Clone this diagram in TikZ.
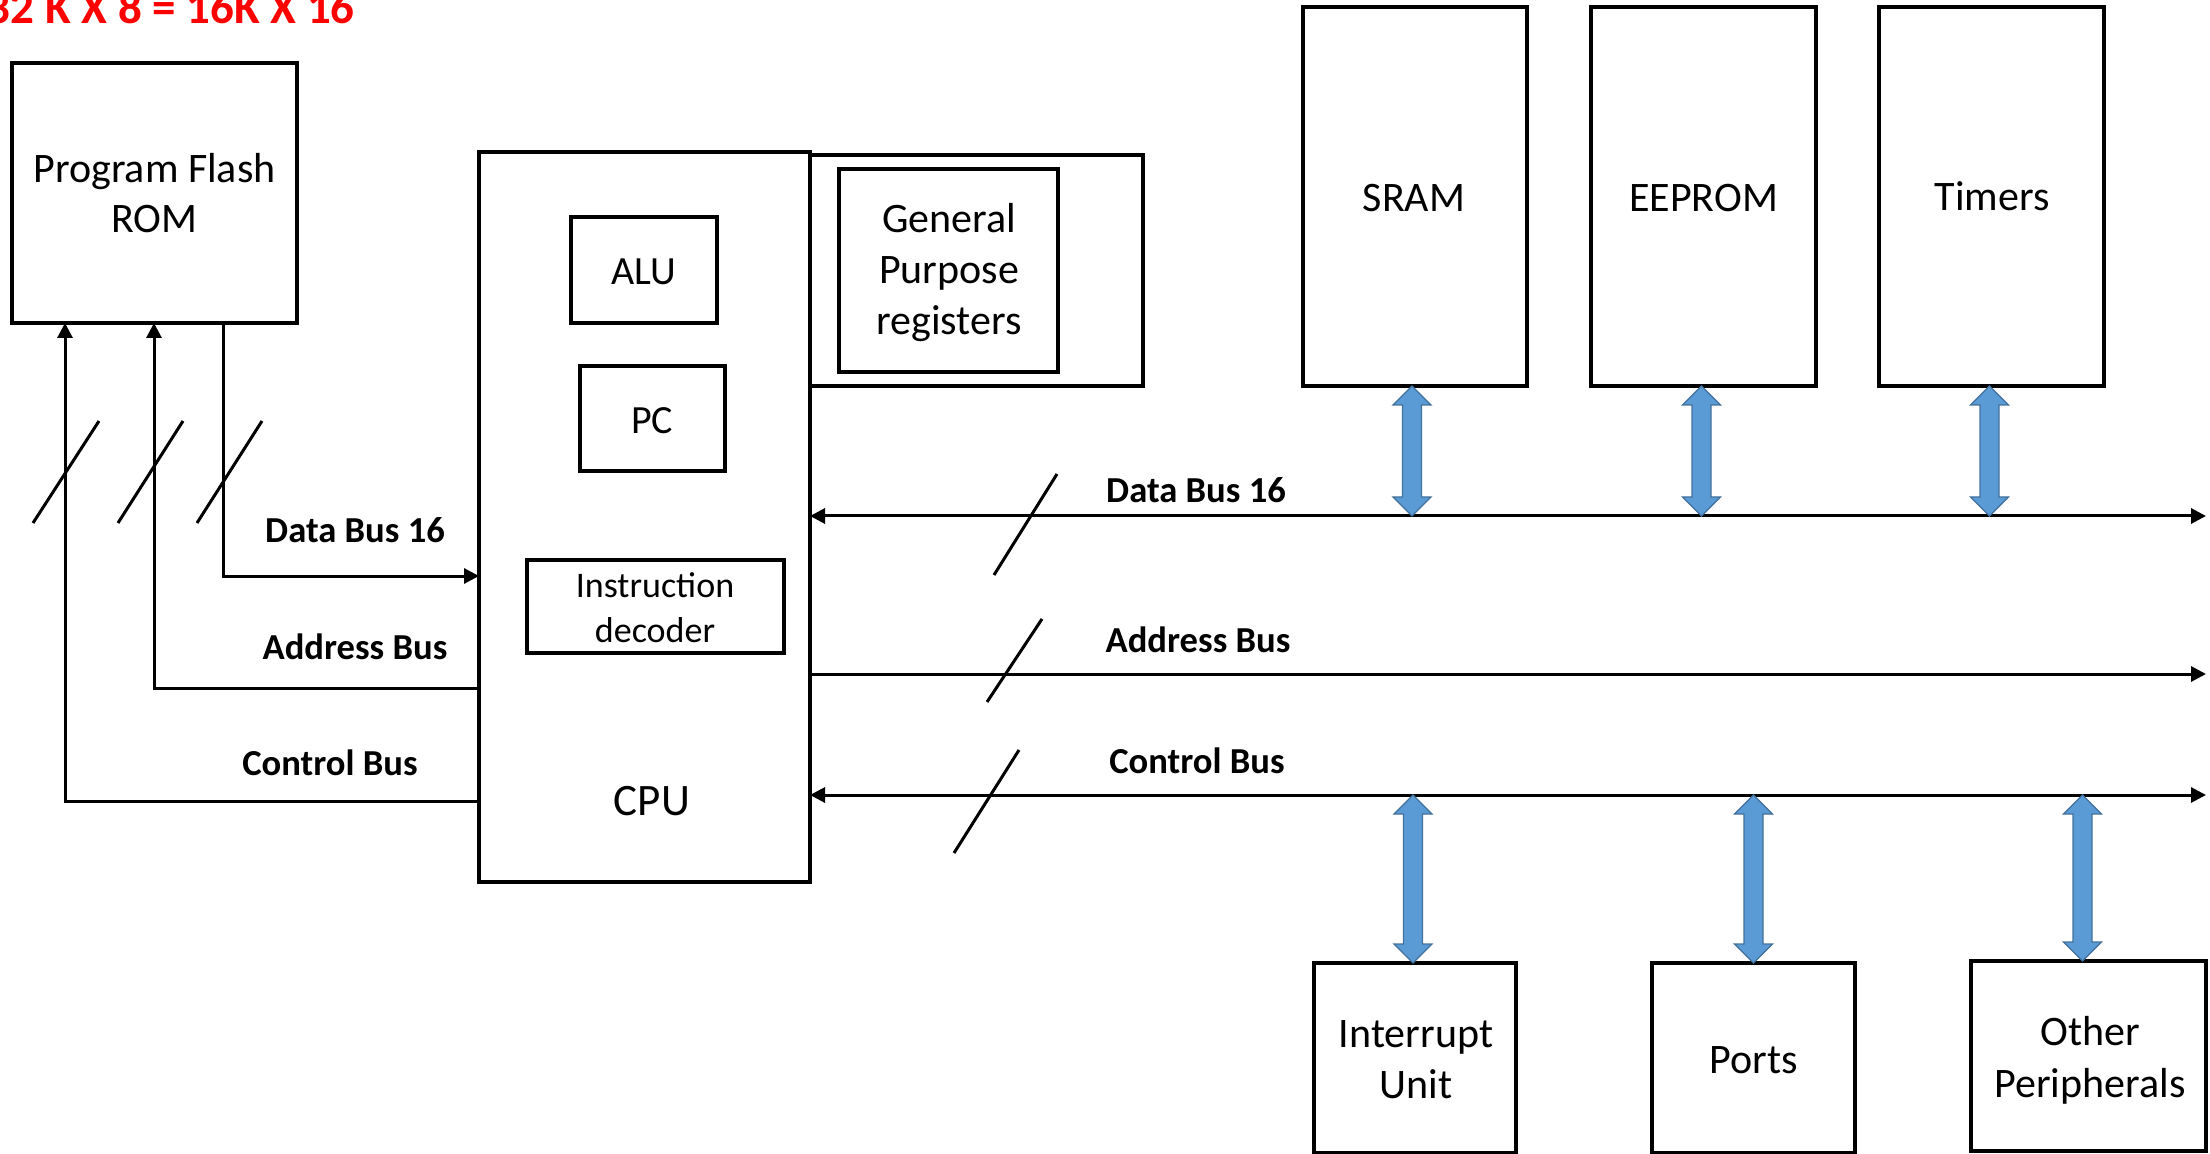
\documentclass[tikz,border=0pt]{standalone}
\usepackage{fontspec}
\setmainfont{Carlito}
\usetikzlibrary{arrows.meta,calc}
\definecolor{fatfill}{HTML}{5B9BD5}
\definecolor{fatline}{HTML}{41719C}
\newcommand{\fatarrow}[2]{%
  \draw[fat] (#1) -- ($(#1)+(19,19)$) -- ($(#1)+(9.5,19)$) -- ($(#2)+(9.5,-19)$)
    -- ($(#2)+(19,-19)$) -- (#2) -- ($(#2)+(-19,-19)$) -- ($(#2)+(-9.5,-19)$)
    -- ($(#1)+(-9.5,19)$) -- ($(#1)+(-19,19)$) -- cycle;}
\begin{document}
\begin{tikzpicture}[x=0.5pt,y=-0.5pt,
  blk/.style={draw,line width=1.65pt,inner sep=0pt,outer sep=0pt},
  txt/.style={anchor=base,inner sep=0pt,font=\fontsize{21}{25.5}\selectfont},
  lbl/.style={anchor=base,inner sep=0pt,font=\fontsize{18.3}{22}\selectfont\bfseries},
  bus/.style={line width=1.5pt,-{Triangle[length=7.5pt,width=7.5pt]}},
  dbus/.style={line width=1.5pt,{Triangle[length=7.5pt,width=7.5pt]}-{Triangle[length=7.5pt,width=7.5pt]}},
  slash/.style={line width=1.5pt},
  fat/.style={fill=fatfill,draw=fatline,line width=0.6pt,line join=miter}
]
\useasboundingbox (0,0) rectangle (2210,1154);

% title
\node[anchor=base east,inner sep=0pt,text=red,font=\fontsize{23.5}{28}\selectfont\bfseries] (title) at (355,24) {32 K X 8 = 16K X 16};

% boxes
\node[blk,minimum width=142.5pt,minimum height=130pt] (ROM) at (154.5,193) {};
\node[blk,minimum width=165.5pt,minimum height=365pt] (CPU) at (644.5,517) {};
\node[blk,minimum width=166.5pt,minimum height=115.5pt] (GPRo) at (976.5,270.5) {};
\node[blk,minimum width=109.5pt,minimum height=101.5pt] (GPR) at (948.5,270.5) {};
\node[blk,minimum width=73pt,minimum height=53pt] (ALU) at (644,270) {};
\node[blk,minimum width=72.5pt,minimum height=52.5pt] (PC) at (652.5,418.5) {};
\node[blk,minimum width=128.5pt,minimum height=46.5pt] (ID) at (655.5,606.5) {};
\node[blk,minimum width=112pt,minimum height=189.5pt] (SRAM) at (1415,196.5) {};
\node[blk,minimum width=112.5pt,minimum height=189.5pt] (EEPROM) at (1703.5,196.5) {};
\node[blk,minimum width=112.5pt,minimum height=189.5pt] (Timers) at (1991.5,196.5) {};
\node[blk,minimum width=101pt,minimum height=95pt] (Int) at (1415,1058) {};
\node[blk,minimum width=101.5pt,minimum height=95pt] (Ports) at (1753.5,1058) {};
\node[blk,minimum width=117.5pt,minimum height=95pt] (Other) at (2088.5,1056) {};

% texts
\node[txt,font=\fontsize{21}{25}\selectfont] (tROM) at (154.5,183) {\begin{tabular}[t]{@{}c@{}}Program Flash\\ROM\end{tabular}};
\node[txt] (tGPR) at (949,233) {\begin{tabular}[t]{@{}c@{}}General\\Purpose\\registers\end{tabular}};
\node[txt,font=\fontsize{20}{24}\selectfont] (tALU) at (644,285) {ALU};
\node[txt,font=\fontsize{20}{24}\selectfont] (tPC) at (652,434) {PC};
\node[txt,font=\fontsize{18}{22.5}\selectfont] (tID) at (655,597) {\begin{tabular}[t]{@{}c@{}}Instruction\\decoder\end{tabular}};
\node[txt,font=\fontsize{22.5}{27}\selectfont] (tCPU) at (652,815) {CPU};
\node[txt] (tSRAM) at (1414,212) {SRAM};
\node[txt] (tEEPROM) at (1703.5,212) {EEPROM};
\node[txt] (tTimers) at (1992,211) {Timers};
\node[txt] (tInt) at (1416,1047) {\begin{tabular}[t]{@{}c@{}}Interrupt\\Unit\end{tabular}};
\node[txt] (tPorts) at (1754,1073) {Ports};
\node[txt,font=\fontsize{21}{26}\selectfont] (tOther) at (2090,1045) {\begin{tabular}[t]{@{}c@{}}Other\\Peripherals\end{tabular}};

% bus labels
\node[lbl] (lD) at (355,543) {Data Bus 16};
\node[lbl] (lA) at (355,659) {Address Bus};
\node[lbl] (lC) at (330,775) {Control Bus};
\node[lbl] (rD) at (1196,503) {Data Bus 16};
\node[lbl] (rA) at (1198,652) {Address Bus};
\node[lbl] (rC) at (1197,773) {Control Bus};

% left buses
\coordinate (rd) at (223,576);
\coordinate (ra) at (154,688);
\coordinate (rc) at (65,801);
\draw[bus] (ROM.south -| rd) -- (rd) -- (rd -| CPU.west);
\draw[bus] (CPU.west |- ra) -- (ra) -- (ROM.south -| ra);
\draw[bus] (CPU.west |- rc) -- (rc) -- (ROM.south -| rc);
\draw[slash] (33,523) -- (99,421);
\draw[slash] (118,523) -- (183,421);
\draw[slash] (197,523) -- (262,421);

% right buses
\coordinate (dbE) at (2206,516);
\coordinate (abE) at (2206,674);
\coordinate (cbE) at (2206,795);
\draw[dbus] (CPU.east |- dbE) -- (dbE);
\draw[bus] (CPU.east |- abE) -- (abE);
\draw[dbus] (CPU.east |- cbE) -- (cbE);
\draw[slash] (994,575) -- (1057,474);
\draw[slash] (987,702) -- (1042,619);
\draw[slash] (954,853) -- (1019,750);

% fat arrows, top
\coordinate (s1) at ($(SRAM.south)+(-3,0)$);   \coordinate (s2) at (s1 |- dbE);
\coordinate (e1) at ($(EEPROM.south)+(-2,0)$); \coordinate (e2) at (e1 |- dbE);
\coordinate (t1) at ($(Timers.south)+(-2,0)$); \coordinate (t2) at (t1 |- dbE);
\fatarrow{s1}{s2}
\fatarrow{e1}{e2}
\fatarrow{t1}{t2}
% fat arrows, bottom
\coordinate (i2) at ($(Int.north)+(-2,0)$);   \coordinate (i1) at (i2 |- cbE);
\coordinate (p2) at (Ports.north);             \coordinate (p1) at (p2 |- cbE);
\coordinate (o2) at ($(Other.north)+(-6,0)$); \coordinate (o1) at (o2 |- cbE);
\fatarrow{i1}{i2}
\fatarrow{p1}{p2}
\fatarrow{o1}{o2}
\end{tikzpicture}
\end{document}
